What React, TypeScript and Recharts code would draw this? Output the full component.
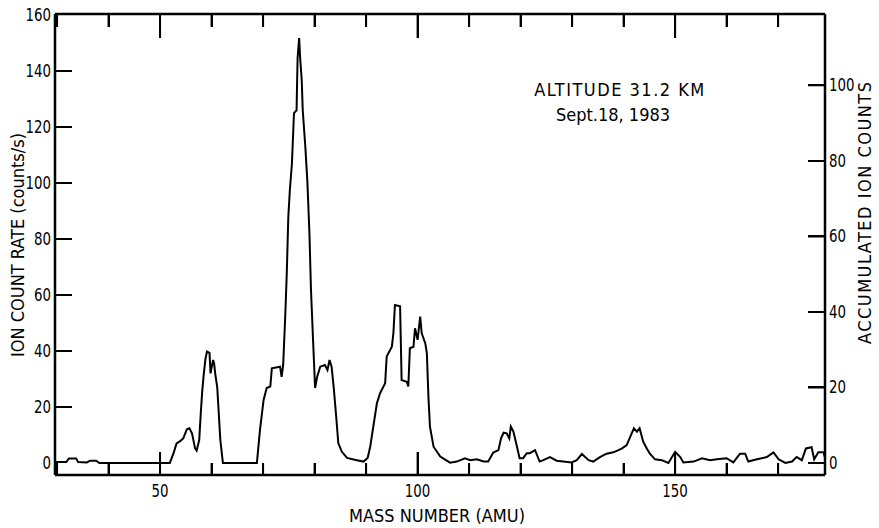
import React from 'react';
import { LineChart, Line, XAxis, YAxis } from 'recharts';

const massNumbers = [
  29.6, 31.8, 32.3, 33.7, 34.1, 35.8, 36.4, 37.6, 38.2, 51.9,
  52.6, 53.2, 53.9, 54.5, 55.2, 55.7, 56.2, 56.8, 57.1, 57.6,
  57.9, 58.2, 58.5, 58.8, 59.1, 59.6, 59.8, 60.0, 60.3, 60.5,
  60.7, 61.1, 61.7, 62.2, 68.8, 69.4, 70.1, 70.7, 71.4, 71.7,
  73.3, 73.6, 73.9, 74.3, 74.6, 74.9, 75.2, 75.6, 76.0, 76.5,
  76.7, 77.0, 77.2, 77.5, 77.7, 78.2, 78.6, 79.0, 79.3, 79.7,
  80.1, 80.5, 81.1, 82.0, 82.5, 82.9, 83.3, 83.7, 84.2, 84.6,
  85.3, 86.3, 88.2, 89.5, 90.3, 90.8, 91.4, 92.1, 92.7, 93.7,
  94.0, 95.0, 95.3, 95.6, 96.6, 96.9, 97.9, 98.2, 98.5, 99.2,
  99.5, 100.0, 100.5, 100.8, 101.5, 101.8, 102.1, 102.4, 103.1, 104.4,
  106.3, 107.6, 109.2, 110.2, 111.5, 112.8, 113.7, 114.7, 115.7, 116.2,
  116.7, 117.3, 117.8, 118.1, 118.6, 119.3, 119.8, 120.5, 121.2, 121.8,
  122.8, 123.7, 124.4, 125.7, 127.0, 129.9, 130.9, 131.9, 133.2, 134.1,
  135.4, 136.7, 138.0, 139.0, 139.7, 140.6, 141.3, 142.0, 142.6, 143.1,
  143.8, 144.5, 145.1, 146.1, 147.4, 148.7, 150.0, 151.0, 151.6, 153.6,
  155.2, 156.8, 158.1, 160.0, 161.3, 162.6, 163.6, 164.2, 165.9, 167.8,
  169.1, 170.1, 171.4, 172.7, 173.6, 174.6, 175.4, 176.5, 177.0, 177.8,
  178.8, 179.1,
];

const ionCountRates = [
  0.3, 0.3, 1.6, 1.6, 0.3, 0.2, 0.8, 0.8, 0, 0,
  3.4, 7, 7.8, 8.8, 12, 12.4, 10.6, 5.2, 4.4, 8.2,
  17.7, 26, 32, 37, 39.8, 39.3, 32, 34, 36.8, 35.5,
  32, 27, 8.2, 0, 0, 11.8, 22.5, 26.8, 27.3, 33.8,
  34.4, 30.8, 35, 52.3, 67.8, 88, 97.5, 107, 125, 126,
  144.6, 151.8, 144.6, 136.8, 126, 113, 100.5, 82, 61.8, 44,
  26.8, 30.8, 34.4, 35, 33.2, 36.8, 34.4, 27.3, 16.5, 7.1,
  4, 1.8, 1, 0.5, 1.8, 5.8, 13, 21.3, 24.9, 28.5,
  38, 41.5, 46.4, 56.4, 56, 29.6, 29, 27.3, 41, 41.5,
  48.1, 44, 52.3, 46.3, 42.7, 39.2, 23.7, 13, 5.8, 2.3,
  0.1, 0.5, 1.7, 1, 1.3, 0.5, 0.5, 3.7, 4.6, 8.8,
  10.8, 10.6, 8.8, 13, 11.2, 5.8, 1.7, 1.7, 3.5, 3.5,
  4.6, 0.5, 1, 2.1, 0.8, 0.2, 1, 3.2, 1, 0.5,
  2.1, 3.3, 3.8, 4.6, 5.2, 6.4, 9.4, 12.4, 11.2, 12.4,
  7.6, 5.2, 3.3, 1.3, 1, 0, 4, 2.1, 0.2, 0.5,
  1.7, 1, 1.3, 1.7, 0.2, 3.3, 3.3, 0.5, 1.3, 2.1,
  3.8, 1.3, 0, 0.5, 2.1, 1, 5.2, 5.6, 1.3, 3.8,
  3.8, 2,
];

const massTicks = [30, 40, 50, 60, 70, 80, 90, 100, 110, 120, 130, 140, 150, 160, 170];
const massLabels = [50, 100, 150];
const rateTicks = [0, 20, 40, 60, 80, 100, 120, 140, 160];
const rateTickMarks = [20, 40, 60, 80, 100, 120, 140];
const accumTicks = [0, 20, 40, 60, 80, 100];

const xTitle = 'MASS NUMBER (AMU)';
const leftTitle = 'ION COUNT RATE (counts/s)';
const rightTitle = 'ACCUMULATED ION COUNTS';
const altitudeText = 'ALTITUDE 31.2 KM';
const dateText = 'Sept.18, 1983';

const data = massNumbers.map((m, i) => ({ m, r: ionCountRates[i] }));

const FONT = '"DejaVu Sans Condensed", "DejaVu Sans", sans-serif';
const INK = '#000';
const DIGIT_W = 8.5;

const massDomain: [number, number] = [29.6, 179.1];
const rateDomain: [number, number] = [-4.3, 160.4];
const accumDomain: [number, number] = [-3.18, 118.9];

// chart layout (pixels)
const CHART_W = 879;
const CHART_H = 528;
const AX_LEFT = 55;
const AX_RIGHT = 54;
const AX_TOP = 14;
const AX_BOTTOM = 53;
const PLOT_W = CHART_W - AX_LEFT - AX_RIGHT;
const PLOT_H = CHART_H - AX_TOP - AX_BOTTOM;
const PLOT_R = AX_LEFT + PLOT_W;
const PLOT_B = AX_TOP + PLOT_H;

// linear maps matching the axes' domains, used only for the inward tick marks
const massPx = (v: number) => AX_LEFT + ((v - massDomain[0]) / (massDomain[1] - massDomain[0])) * PLOT_W;
const ratePx = (v: number) => PLOT_B - ((v - rateDomain[0]) / (rateDomain[1] - rateDomain[0])) * PLOT_H;
const accumPx = (v: number) => PLOT_B - ((v - accumDomain[0]) / (accumDomain[1] - accumDomain[0])) * PLOT_H;

const SIDE_TICK = 17;
const tickLen = (v: number, top: boolean) => (massLabels.includes(v) ? (top ? 24 : 23) : top ? 13 : 12);

type Seg = { x1: number; y1: number; x2: number; y2: number };
const tickSegs: Seg[] = [
  ...massTicks.map((v) => ({ x1: massPx(v), y1: PLOT_B, x2: massPx(v), y2: PLOT_B - tickLen(v, false) })),
  ...massTicks.map((v) => ({ x1: massPx(v), y1: AX_TOP, x2: massPx(v), y2: AX_TOP + tickLen(v, true) })),
  ...rateTickMarks.map((v) => ({ x1: AX_LEFT, y1: ratePx(v), x2: AX_LEFT + SIDE_TICK, y2: ratePx(v) })),
  ...accumTicks.map((v) => ({ x1: PLOT_R - SIDE_TICK, y1: accumPx(v), x2: PLOT_R, y2: accumPx(v) })),
];
const tickPath = tickSegs.map((s) => `M${s.x1},${s.y1} L${s.x2},${s.y2}`).join(' ');

const BottomLabel = (props: any) => {
  const { x, y, payload } = props;
  const v = payload.value;
  if (!massLabels.includes(v)) return <g />;
  const s = String(v);
  return (
    <text x={x} y={y + 22} textAnchor="middle" fontSize={18} fontFamily={FONT} fill={INK}
      textLength={s.length * DIGIT_W} lengthAdjust="spacingAndGlyphs">
      {s}
    </text>
  );
};

const LeftLabel = (props: any) => {
  const { x, y, payload } = props;
  const s = String(payload.value);
  return (
    <text x={x - 4} y={y + 6} textAnchor="end" fontSize={18} fontFamily={FONT} fill={INK}
      textLength={s.length * DIGIT_W} lengthAdjust="spacingAndGlyphs">
      {s}
    </text>
  );
};

const RightLabel = (props: any) => {
  const { x, y, payload } = props;
  const s = String(payload.value);
  return (
    <text x={x + 4} y={y + 6} textAnchor="start" fontSize={18} fontFamily={FONT} fill={INK}
      textLength={s.length * DIGIT_W} lengthAdjust="spacingAndGlyphs">
      {s}
    </text>
  );
};

const NoLabel = () => <g />;

const frame = { stroke: INK, strokeWidth: 2.5 };

export default function App() {
  return (
    <div style={{ position: 'absolute', left: 0, top: 0, width: CHART_W, height: CHART_H, overflow: 'hidden', background: '#fff' }}>
      <LineChart width={CHART_W} height={CHART_H} data={data} margin={{ top: 0, right: 0, bottom: 0, left: 0 }}>
        <XAxis xAxisId="b" orientation="bottom" type="number" dataKey="m" domain={massDomain}
          allowDataOverflow ticks={massTicks} interval={0} height={AX_BOTTOM} tickSize={0} tickMargin={0}
          tickLine={false} axisLine={frame} tick={(p: any) => <BottomLabel {...p} />} />
        <XAxis xAxisId="t" orientation="top" type="number" dataKey="m" domain={massDomain}
          allowDataOverflow ticks={massTicks} interval={0} height={AX_TOP} tickLine={false}
          axisLine={frame} tick={NoLabel} />
        <YAxis yAxisId="l" orientation="left" type="number" domain={rateDomain} allowDataOverflow
          ticks={rateTicks} interval={0} width={AX_LEFT} tickSize={0} tickMargin={0} tickLine={false}
          axisLine={frame} tick={(p: any) => <LeftLabel {...p} />} />
        <YAxis yAxisId="r" orientation="right" type="number" domain={accumDomain} allowDataOverflow
          ticks={accumTicks} interval={0} width={AX_RIGHT} tickSize={0} tickMargin={0} tickLine={false}
          axisLine={frame} tick={(p: any) => <RightLabel {...p} />} />

        <path d={tickPath} stroke={INK} strokeWidth={2} fill="none" />

        <Line xAxisId="b" yAxisId="l" type="linear" dataKey="r" stroke={INK} strokeWidth={2}
          dot={false} activeDot={false} isAnimationActive={false} />

        <text x={437} y={522} textAnchor="middle" fontSize={18} fontFamily={FONT} fill={INK}>
          {xTitle}
        </text>
        <text x={24} y={245} textAnchor="middle" fontSize={18} fontFamily={FONT} fill={INK}
          transform="rotate(-90 24 245)">
          {leftTitle}
        </text>
        <text x={871} y={213} textAnchor="middle" fontSize={18} fontFamily={FONT} fill={INK}
          textLength={262} lengthAdjust="spacing" transform="rotate(-90 871 213)">
          {rightTitle}
        </text>
        <text x={620} y={96} textAnchor="middle" fontSize={18} fontFamily={FONT} fill={INK}
          letterSpacing={1.5}>
          {altitudeText}
        </text>
        <text x={613} y={121} textAnchor="middle" fontSize={18} fontFamily={FONT} fill={INK}>
          {dateText}
        </text>
      </LineChart>

      {/* the same inward tick marks, also as an HTML overlay on the frame */}
      {tickSegs.map((s, i) => {
        const vertical = s.x1 === s.x2;
        const left = vertical ? s.x1 - 1 : Math.min(s.x1, s.x2);
        const top = vertical ? Math.min(s.y1, s.y2) : s.y1 - 1;
        const w = vertical ? 2 : Math.abs(s.x2 - s.x1);
        const h = vertical ? Math.abs(s.y2 - s.y1) : 2;
        return (
          <div key={i} style={{ position: 'absolute', left, top, width: w, height: h, background: INK, pointerEvents: 'none' }} />
        );
      })}
    </div>
  );
}
